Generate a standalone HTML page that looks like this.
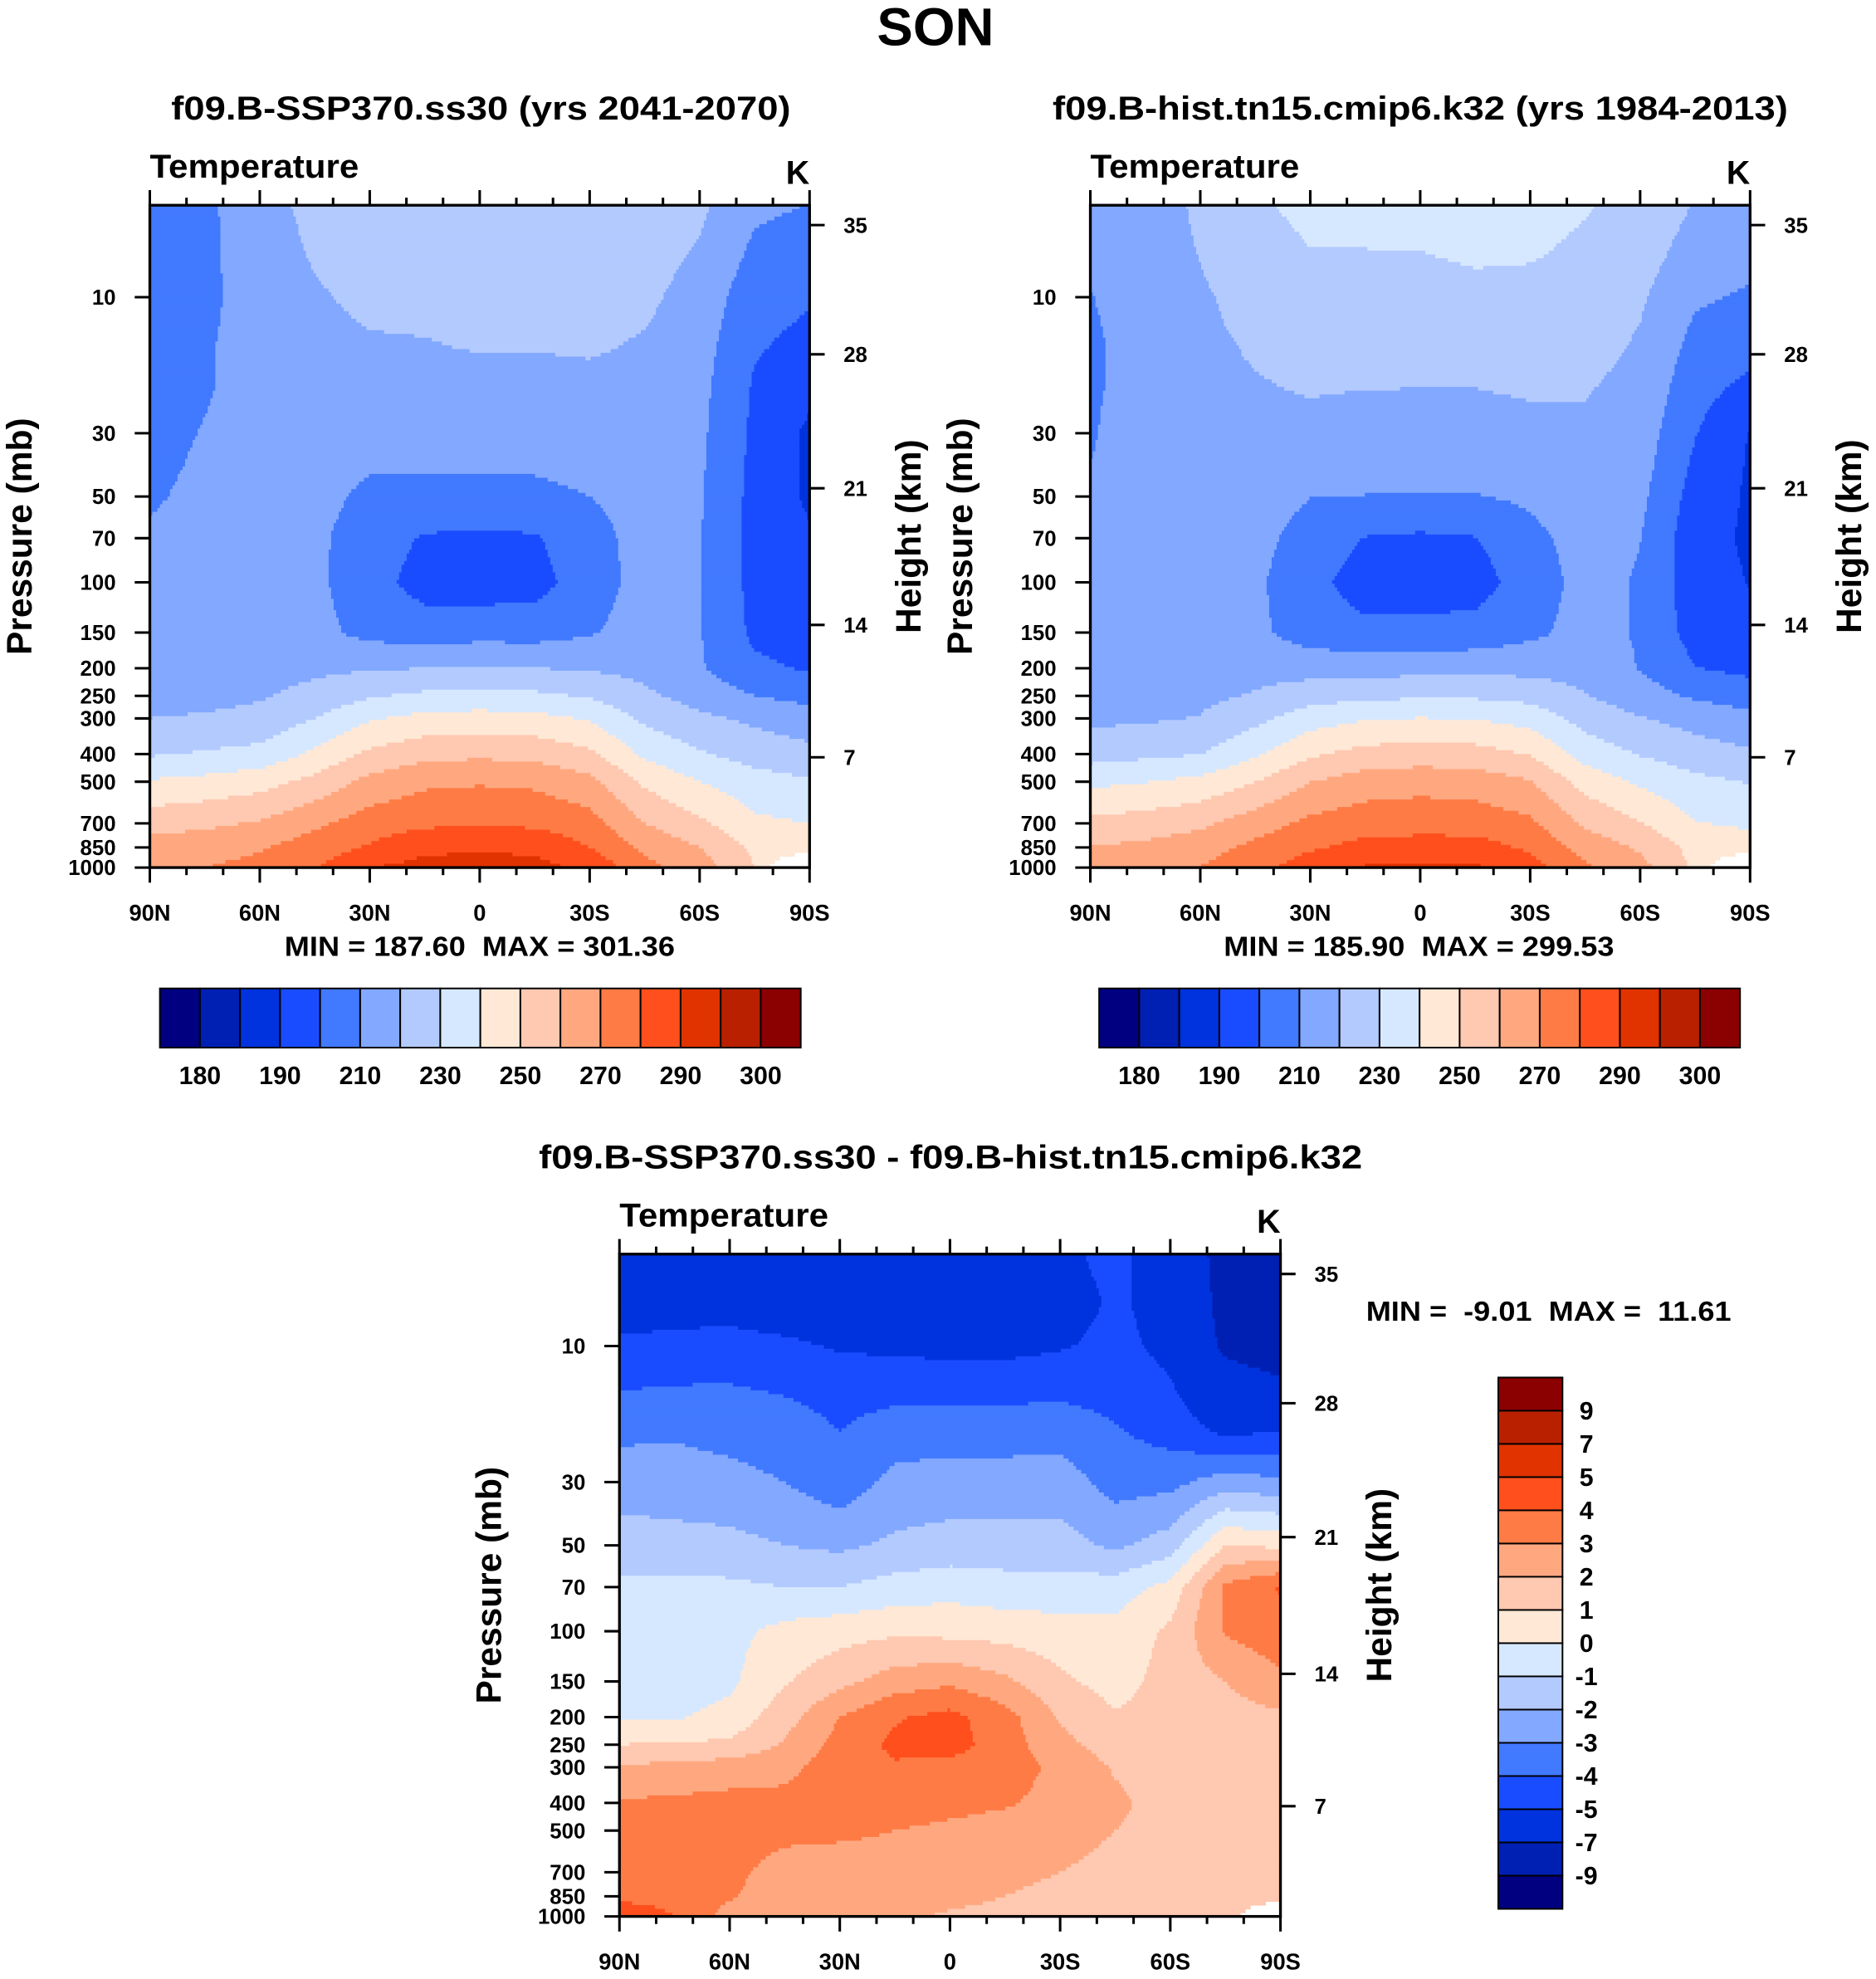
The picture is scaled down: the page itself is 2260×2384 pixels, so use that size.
<!DOCTYPE html>
<html><head><meta charset="utf-8"><title>SON Temperature</title>
<style>
html,body{margin:0;padding:0;background:#fff;}
svg{display:block;}
text{font-family:"Liberation Sans",Arial,sans-serif;font-weight:bold;fill:#000;white-space:pre;}
</style></head>
<body>
<svg id="fig" xmlns="http://www.w3.org/2000/svg" width="2260" height="2384" viewBox="0 0 1490 1571.7" preserveAspectRatio="none">
<rect x="0" y="0" width="1490" height="1572" fill="#fff"/>
<text x="743" y="36" font-size="42" text-anchor="middle" textLength="93" lengthAdjust="spacingAndGlyphs">SON</text>
<text x="382" y="95" font-size="26" text-anchor="middle" textLength="492" lengthAdjust="spacingAndGlyphs">f09.B-SSP370.ss30 (yrs 2041-2070)</text>
<text x="1128" y="95" font-size="26" text-anchor="middle" textLength="584" lengthAdjust="spacingAndGlyphs">f09.B-hist.tn15.cmip6.k32 (yrs 1984-2013)</text>
<text x="755" y="928" font-size="26" text-anchor="middle" textLength="654" lengthAdjust="spacingAndGlyphs">f09.B-SSP370.ss30 - f09.B-hist.tn15.cmip6.k32</text>
<text x="381" y="759" font-size="22" text-anchor="middle" textLength="310" lengthAdjust="spacingAndGlyphs">MIN = 187.60&#160;&#160;MAX = 301.36</text>
<text x="1127" y="759" font-size="22" text-anchor="middle" textLength="310" lengthAdjust="spacingAndGlyphs">MIN = 185.90&#160;&#160;MAX = 299.53</text>
<text x="1085" y="1049" font-size="22" textLength="290" lengthAdjust="spacingAndGlyphs">MIN =&#160;&#160;-9.01&#160;&#160;MAX =&#160;&#160;11.61</text>
<g id="plots"></g>
</svg>
<script>
const P_LEVELS=[4.7,7,10,15,20,30,50,70,100,150,200,250,300,400,500,700,850,1000];
const LATS=[90,75,60,45,30,15,0,-15,-30,-45,-60,-75,-90];
const sspTemp=[
[207,206,205,205,206,207,209,211,213,215,216,217,220,229,241,256,264,267],
[208,208,208,209,209,210.5,212,213,214,215,216,217,221,231,243,258,266,270],
[216,215,214,214,214,214,214,214,214,215,217,219,223,233,246,261,269,273],
[223,221,219,217,216,215,213,212,212,213,218,223,230,242,253,268,275,279],
[226,224,222,219,217,214,208,205,204,207,219,229,239,252,263,275,281,290],
[226,224,222,219.5,217,214,208,199,196,205,220,232,243,257,268,278,288,293],
[226,224,222,220.5,217,214,208,198,195,206,221,233,244,258,269,279,288,295],
[227,225,223,220.5,217,214,208,199,196,206,220,232,243,257,268,278,288,293],
[227,225,223,221,218,215,210,207,206,209,219,229,239,252,263,274,280,288],
[226,224,222,219,217,215,213,213,213,214,217,222,228,238,248,260,268,273],
[222,219,216,214,213,212,211,210.5,210.5,210.5,211,216,222,231,240,252,260,265],
[212,208,204,201,199,198,197,197,197,198,202,210,218,226,234,242,248,250],
[210,205,201,197,193,188,188.5,191,193,195,199,207,214,223,231,240,246,null]
];
const histTemp=[
[213.2,211.6,209.8,208.9,209.2,209.5,210.5,211.8,213.6,215.5,216.1,216,217.9,225.9,237.7,252.6,260.4,262],
[214.2,213.5,212.7,212.8,212.1,213.1,213.6,213.8,214.6,215.5,216.1,215.9,218.7,227.8,239.6,254.5,262.4,266],
[222,220.5,218.6,217.8,217.3,216.7,215.7,214.8,214.3,215.2,216.7,217.8,220.5,229.7,242.7,257.8,265.9,270.4],
[229,226.7,223.8,221,219.5,218,215,213,211.7,212.1,216.4,220.9,227.3,238.7,249.8,265.3,272.5,276.6],
[232,229.8,227.1,223.3,221,217.6,210.2,206,203.4,205.3,216,225.6,235.4,248.4,259.8,272.5,278.6,285.4],
[232.1,229.8,227.2,223.7,220.5,216.7,209.8,199.6,195.2,202.5,216.1,227.8,239.1,253.5,265,275.5,283.4,290.8],
[232.2,229.9,227.3,224.7,220.4,216.6,209.6,198.4,194.3,203.2,216.7,228.6,240.3,254.7,266.2,276.6,283.6,292.1],
[233.2,230.9,228.3,224.7,220.4,216.6,209.6,199.6,195.4,203.8,216.6,228.5,239.6,253.9,265.4,275.8,284,291.2],
[232.3,230.6,228.1,225.1,221.4,217.5,211.6,207.6,205.6,207.8,217.1,226.7,236.2,249.3,260.6,272,278.2,284.6],
[230.6,228.8,226.7,223.3,220.9,218.4,215.2,213.5,212.7,213.4,215.9,220.5,226.1,235.8,246,258.3,266.4,271.5],
[227.9,224.5,221.3,218.8,217.4,215.3,212.5,210.2,209.3,209.1,209.6,214.6,220.5,229.4,238.4,250.5,258.5,263.5],
[219.5,215.5,211.3,207,204.2,200.5,196,193.8,193.9,196,200.4,208.5,216.5,224.5,232.5,240.5,246.6,248],
[218,213,208.8,203.5,198,189.4,188.6,188.5,189.7,192.2,197.2,205.5,212.5,221.5,229.5,238.5,244,null]
];
const diffTemp=[
[-6.2,-5.6,-4.8,-3.9,-3.2,-2.5,-1.5,-0.8,-0.6,-0.5,-0.1,1.0,2.1,3.1,3.3,3.4,3.6,5.0],
[-6.2,-5.5,-4.7,-3.8,-3.1,-2.6,-1.6,-0.8,-0.6,-0.5,-0.1,1.1,2.3,3.2,3.4,3.5,3.6,4.0],
[-6.0,-5.5,-4.6,-3.8,-3.3,-2.7,-1.7,-0.8,-0.3,-0.2,0.3,1.2,2.5,3.3,3.3,3.2,3.1,2.6],
[-6.0,-5.7,-4.8,-4.0,-3.5,-3.0,-2.0,-1.0,0.3,0.9,1.6,2.1,2.7,3.3,3.2,2.7,2.5,2.4],
[-6.0,-5.8,-5.1,-4.3,-4.0,-3.6,-2.2,-1.0,0.6,1.7,3.0,3.4,3.6,3.6,3.2,2.5,2.4,2.3],
[-6.1,-5.8,-5.2,-4.2,-3.5,-2.7,-1.8,-0.6,0.8,2.5,3.9,4.2,3.9,3.5,3.0,2.5,2.3,2.2],
[-6.2,-5.9,-5.3,-4.2,-3.4,-2.6,-1.6,-0.4,0.7,2.8,4.3,4.4,3.7,3.3,2.8,2.4,2.2,1.9],
[-6.2,-5.9,-5.3,-4.2,-3.4,-2.6,-1.6,-0.6,0.6,2.2,3.4,3.5,3.4,3.1,2.6,2.2,2.0,1.8],
[-5.3,-5.6,-5.1,-4.1,-3.4,-2.5,-1.6,-0.6,0.4,1.2,1.9,2.3,2.8,2.7,2.4,2.0,1.8,1.7],
[-4.6,-4.8,-4.7,-4.3,-3.9,-3.4,-2.2,-0.5,0.3,0.6,1.1,1.5,1.9,2.2,2.0,1.7,1.6,1.5],
[-5.9,-5.5,-5.3,-4.8,-4.4,-3.3,-1.5,0.3,1.2,1.4,1.4,1.4,1.5,1.6,1.6,1.5,1.5,1.5],
[-7.5,-7.5,-7.3,-6.0,-5.2,-2.5,1.0,3.2,3.1,2.0,1.6,1.5,1.5,1.5,1.5,1.5,1.4,1.4],
[-8.0,-8.0,-7.8,-6.5,-5.0,-2.8,0.8,4.1,3.6,2.8,1.8,1.5,1.5,1.5,1.5,1.5,1.5,null]
];
const TEMP_LEVELS=[180,185,190,200,210,220,230,240,250,260,270,280,290,295,300];
const TEMP_LABELS=["180","190","210","230","250","270","290","300"];
const DIFF_LEVELS=[-9,-7,-5,-4,-3,-2,-1,0,1,2,3,4,5,7,9];
const DIFF_LABELS=["-9","-7","-5","-4","-3","-2","-1","0","1","2","3","4","5","7","9"];
const PRESSURE_TICKS=[10,30,50,70,100,150,200,250,300,400,500,700,850,1000];
const HEIGHT_TICKS=[7,14,21,28,35];
const LAT_TICKS=[90,60,30,0,-30,-60,-90];
const LAT_LABELS=["90N","60N","30N","0","30S","60S","90S"];
const COLORS=["#000080","#0020b4","#0033dd","#1a4cff","#4179ff","#82a8ff","#b3caff","#d6e8ff","#ffe8d6","#ffc8b0","#ffa880","#ff7b45","#ff4f1c","#e03300","#b82000","#8b0000"];

const NS="http://www.w3.org/2000/svg";
const root=document.getElementById('plots');
const LOGP=P_LEVELS.map(p=>Math.log10(p));
const DECADE=226.5;
function mk(tag,attrs,parent){const e=document.createElementNS(NS,tag);for(const k in attrs)e.setAttribute(k,attrs[k]);(parent||root).appendChild(e);return e;}
function xOf(lat,pl){return pl.x0+(90-lat)/180*pl.w;}
function yOf(p,pl){return pl.y0+pl.h-(3-Math.log10(p))*DECADE;}
function pOfHeight(z){
  if(z<=11) return 1013.25*Math.pow(1-0.0065*z*1000/288.15,5.25588);
  if(z<=20) return 226.32*Math.exp(-(z-11)*1000/6341.6);
  if(z<=32) return 54.75*Math.pow(1+(z-20)/216.65,-34.163);
  return 8.68*Math.pow(1+2.8*(z-32)/228.65,-12.201);
}
function sample(field,lat,lp){
  let fi=(90-lat)/15; if(fi<0)fi=0; if(fi>12)fi=12;
  let i0=Math.min(11,Math.floor(fi)); const t=fi-i0;
  let k=0; if(lp<=LOGP[0]){k=0;} else {while(k<LOGP.length-2 && lp>LOGP[k+1])k++;}
  let s=(lp-LOGP[k])/(LOGP[k+1]-LOGP[k]); if(s<0)s=0; if(s>1)s=1;
  const a=field[i0][k],b=field[i0+1][k],c=field[i0][k+1],d=field[i0+1][k+1];
  if(a==null||b==null||c==null||d==null){
    const w=[[a,(1-t)*(1-s)],[b,t*(1-s)],[c,(1-t)*s],[d,t*s]];
    let nullW=0,sum=0,ws=0;
    for(const [v,wt] of w){if(v==null)nullW+=wt;else{sum+=v*wt;ws+=wt;}}
    if(nullW>0.25||ws===0) return null;
    return sum/ws;
  }
  return (a*(1-t)+b*t)*(1-s)+(c*(1-t)+d*t)*s;
}
function cls(v,levels){let n=0;for(const l of levels){if(v>=l)n++;}return n;}

function drawPlot(pl,field,levels,name){
  const g=mk('g',{});
  
  
  const NX=262,NY=175;
  const cw=pl.w/NX,ch=pl.h/NY;
  for(let r=0;r<NY;r++){
    const yc=pl.y0+(r+0.5)*ch;
    const lp=3-(pl.y0+pl.h-yc)/DECADE;
    let runStart=0,runC=-2;
    const flush=(end)=>{
      if(runC>=0){
        const e=mk('rect',{x:(pl.x0+runStart*cw).toFixed(2),y:(pl.y0+r*ch).toFixed(2),width:((end-runStart)*cw+0.4).toFixed(2),height:(ch+0.4).toFixed(2),fill:COLORS[runC]},g);
        
        
      }
    };
    for(let c=0;c<NX;c++){
      const xc=pl.x0+(c+0.5)*cw;
      const lat=90-(xc-pl.x0)/pl.w*180;
      const v=sample(field,lat,lp);
      const ci=v==null?-1:cls(v,levels);
      if(ci!==runC){flush(c);runStart=c;runC=ci;}
    }
    flush(NX);
  }
  const fr=mk('rect',{x:pl.x0,y:pl.y0,width:pl.w,height:pl.h,fill:'none',stroke:'#000','stroke-width':2.2});
  
  
  const y1=pl.y0+pl.h;
  for(let lat=90;lat>=-90;lat-=10){
    const x=xOf(lat,pl); const major=(lat%30===0); const L=major?12:6;
    const t1=mk('line',{x1:x,y1:y1,x2:x,y2:y1+L,stroke:'#000','stroke-width':2});
    
    
    const t2=mk('line',{x1:x,y1:pl.y0,x2:x,y2:pl.y0-L,stroke:'#000','stroke-width':2});
    
    
  }
  LAT_TICKS.forEach((lat,i)=>{
    const t=mk('text',{x:xOf(lat,pl),y:y1+42,'font-size':18,'text-anchor':'middle'});
    t.textContent=LAT_LABELS[i];
    
    
  });
  PRESSURE_TICKS.forEach(p=>{
    const y=yOf(p,pl);
    const l=mk('line',{x1:pl.x0-12,y1:y,x2:pl.x0,y2:y,stroke:'#000','stroke-width':2});
    
    
    const t=mk('text',{x:pl.x0-27,y:y+6,'font-size':17,'text-anchor':'end'});
    t.textContent=String(p);
    
    
  });
  HEIGHT_TICKS.forEach(z=>{
    const y=yOf(pOfHeight(z),pl);
    const l=mk('line',{x1:pl.x0+pl.w,y1:y,x2:pl.x0+pl.w+12,y2:y,stroke:'#000','stroke-width':2});
    
    
    const t=mk('text',{x:pl.x0+pl.w+27,y:y+6,'font-size':17});
    t.textContent=String(z);
    
    
  });
  const tt=mk('text',{x:pl.x0,y:pl.y0-22,'font-size':26,textLength:166,lengthAdjust:'spacingAndGlyphs'});
  tt.textContent='Temperature';
  
  
  const kk=mk('text',{x:pl.x0+pl.w,y:pl.y0-17,'font-size':26,'text-anchor':'end'});
  kk.textContent='K';
  
  
  const yc=pl.y0+pl.h/2;
  const py=mk('text',{x:0,y:0,'font-size':28,'text-anchor':'middle',transform:`translate(${pl.x0-94},${yc}) rotate(-90)`});
  py.textContent='Pressure (mb)';
  
  
  const hy=mk('text',{x:0,y:0,'font-size':28,'text-anchor':'middle',transform:`translate(${pl.x0+pl.w+88},${yc}) rotate(-90)`});
  hy.textContent='Height (km)';
  
  
}

function hColorbar(x0,y0,w,h,labels,name){
  const n=COLORS.length, bw=w/n;
  for(let i=0;i<n;i++){
    const r=mk('rect',{x:x0+i*bw,y:y0,width:bw,height:h,fill:COLORS[i],stroke:'#000','stroke-width':1.3});
    
    
  }
  labels.forEach((lab,j)=>{
    const t=mk('text',{x:x0+(2*j+1)*bw,y:y0+h+29,'font-size':20,'text-anchor':'middle'});
    t.textContent=lab;
    
    
  });
}
function vColorbar(x0,y0,w,h,labels,name){
  const n=COLORS.length, bh=h/n;
  for(let i=0;i<n;i++){
    const r=mk('rect',{x:x0,y:y0+i*bh,width:w,height:bh,fill:COLORS[n-1-i],stroke:'#000','stroke-width':1.3});
    
    
  }
  const m=labels.length;
  labels.forEach((lab,j)=>{
    const t=mk('text',{x:x0+w+19,y:y0+(m-j)*bh+7,'font-size':20,'text-anchor':'middle'});
    t.textContent=lab;
    
    
  });
}

const plLeft={x0:119,y0:163,w:524,h:526};
const plRight={x0:866,y0:163,w:524,h:526};
const plDiff={x0:492,y0:996,w:525,h:526};
drawPlot(plLeft,sspTemp,TEMP_LEVELS,'ssp370');
drawPlot(plRight,histTemp,TEMP_LEVELS,'hist');
drawPlot(plDiff,diffTemp,DIFF_LEVELS,'diff');
hColorbar(127,785,509,47,TEMP_LABELS,'left-colorbar');
hColorbar(873,785,509,47,TEMP_LABELS,'right-colorbar');
vColorbar(1190,1094,51,422,DIFF_LABELS,'diff-colorbar');
</script>
</body></html>
